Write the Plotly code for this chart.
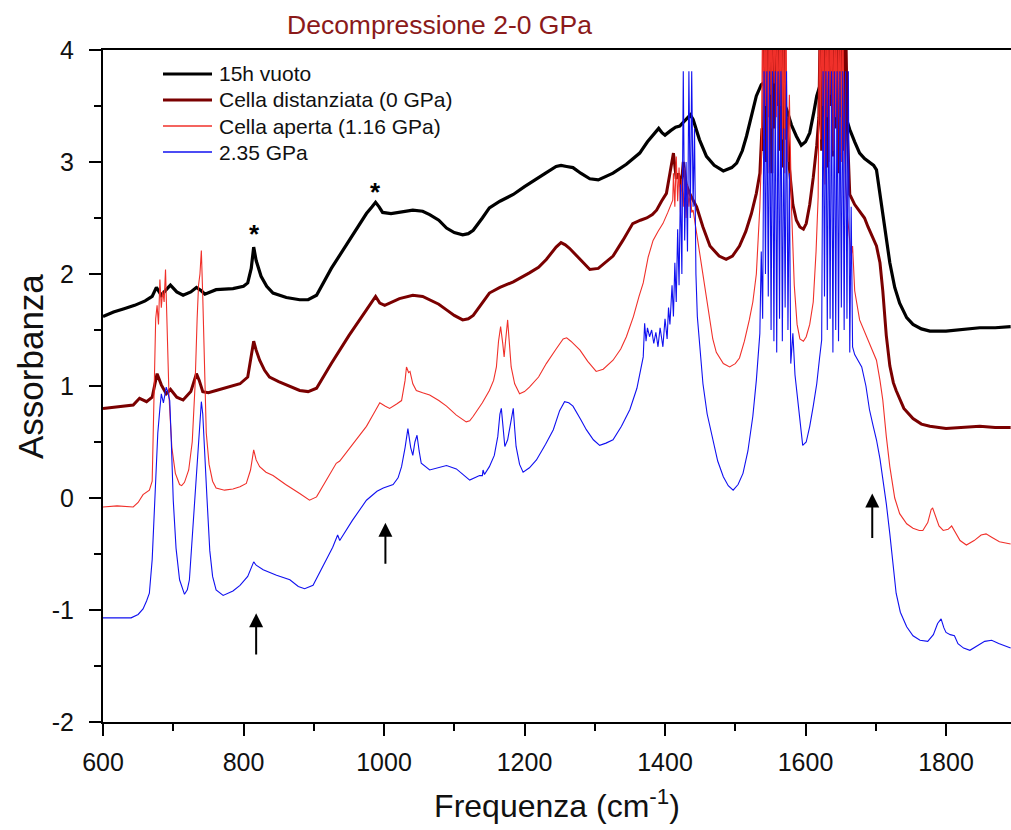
import plotly.graph_objects as go

# ---------------- spectra (wavenumber in cm^-1, absorbance) ----------------
vuoto_x = [600, 615, 630, 645, 660, 670, 676, 683, 690, 696, 705, 714, 725, 733, 740, 745, 761, 785, 800, 806,
           811, 814.5, 818, 825, 833, 842, 861, 880, 892, 904, 925, 950, 975, 983, 988, 993, 998, 1010, 1022, 1041,
           1055, 1065, 1078, 1089, 1100, 1112, 1120, 1127, 1140, 1150, 1165, 1184, 1200, 1214, 1230, 1245, 1252, 1260,
           1269, 1280, 1293, 1305, 1326, 1345, 1364, 1375, 1385, 1391, 1396, 1400, 1408, 1415, 1421, 1430, 1436, 1440,
           1445, 1449, 1459, 1470, 1483, 1495, 1502, 1510, 1516, 1523, 1530, 1537, 1545, 1552, 1560, 1566, 1573, 1580,
           1587, 1594, 1600, 1606, 1612, 1616, 1620, 1627, 1634, 1642, 1650, 1657, 1663, 1670, 1677, 1684, 1691, 1697,
           1701, 1705, 1710, 1715, 1720, 1727, 1734, 1744, 1753, 1765, 1777, 1800, 1820, 1848, 1870, 1892]
vuoto_y = [1.62, 1.66, 1.69, 1.72, 1.76, 1.80, 1.88, 1.81, 1.86, 1.90, 1.84, 1.81, 1.84, 1.88, 1.85, 1.82, 1.86, 1.87, 1.89, 1.92,
           2.05, 2.24, 2.12, 1.98, 1.89, 1.83, 1.79, 1.77, 1.77, 1.81, 2.05, 2.30, 2.54, 2.60, 2.64, 2.60, 2.55, 2.54, 2.55, 2.57,
           2.56, 2.53, 2.48, 2.41, 2.37, 2.35, 2.36, 2.39, 2.50, 2.59, 2.65, 2.71, 2.78, 2.84, 2.90, 2.96, 2.97, 2.96,
           2.95, 2.90, 2.85, 2.84, 2.90, 2.98, 3.08, 3.18, 3.26, 3.30, 3.26, 3.24, 3.28, 3.31, 3.32, 3.38, 3.42, 3.38,
           3.28, 3.20, 3.05, 2.97, 2.92, 2.95, 2.99, 3.10, 3.23, 3.40, 3.59, 3.69, 3.73, 3.74, 3.65, 3.58, 3.47, 3.33,
           3.23, 3.15, 3.18, 3.26, 3.45, 3.59, 3.67, 3.76, 3.80, 3.72, 3.55, 3.40, 3.29, 3.18, 3.08, 3.03, 3.00, 2.97,
           2.93, 2.75, 2.54, 2.32, 2.10, 1.88, 1.74, 1.61, 1.55, 1.51, 1.49, 1.49, 1.50, 1.52, 1.52, 1.53]

distanziata_x = [600, 615, 630, 643, 652, 662, 670, 677, 683, 690, 696, 705, 714, 725, 733, 737, 742, 750, 761, 780,
                 795, 806, 811, 814.5, 818, 823, 830, 837, 850, 861, 880, 892, 904, 925, 950, 975, 983, 988, 994, 1001,
                 1022, 1041, 1055, 1065, 1078, 1089, 1100, 1112, 1120, 1127, 1140, 1150, 1165, 1184, 1207, 1220, 1231,
                 1245, 1252, 1258, 1264, 1280, 1293, 1305, 1326, 1340, 1354, 1365, 1374, 1382, 1388, 1395, 1402, 1407,
                 1412, 1416, 1419, 1423, 1426, 1430, 1435, 1440, 1445, 1454, 1464, 1477, 1487, 1496, 1506, 1515, 1523,
                 1530, 1535, 1538,
                 1540, 1542, 1544, 1546, 1548, 1550, 1552, 1554, 1556, 1558, 1560, 1562, 1564, 1566, 1568, 1570, 1572,
                 1574, 1577, 1582, 1587, 1592, 1597, 1601, 1606, 1611, 1616, 1619,
                 1621, 1623, 1625, 1627, 1629, 1631, 1633, 1635, 1637, 1639, 1641, 1643, 1645, 1647, 1649, 1651, 1653,
                 1655, 1657, 1660, 1663, 1670, 1677, 1684, 1689, 1695, 1701, 1706, 1710, 1715, 1720, 1725, 1729, 1740,
                 1753, 1765, 1777, 1800, 1820, 1848, 1870, 1892]
distanziata_y = [0.80, 0.81, 0.82, 0.83, 0.89, 0.86, 0.90, 1.11, 1.01, 0.93, 0.97, 0.90, 0.875, 0.95, 1.11, 1.05, 0.95, 0.94, 0.96, 0.99,
                 1.02, 1.08, 1.25, 1.40, 1.32, 1.23, 1.14, 1.08, 1.04, 1.01, 0.96, 0.95, 0.98, 1.20, 1.45, 1.68, 1.76, 1.80, 1.74, 1.72,
                 1.78, 1.81, 1.80, 1.77, 1.73, 1.68, 1.63, 1.59, 1.60, 1.63, 1.74, 1.83, 1.88, 1.93, 2.01, 2.06, 2.13,
                 2.24, 2.28, 2.26, 2.23, 2.12, 2.04, 2.05, 2.16, 2.30, 2.45, 2.48, 2.50, 2.53, 2.57, 2.65, 2.72, 2.90,
                 3.08, 2.85, 2.90, 2.78, 3.00, 2.80, 2.72, 2.66, 2.60, 2.42, 2.25, 2.16, 2.13, 2.16, 2.25, 2.38, 2.54,
                 2.72, 2.90, 3.30,
                 3.10, 4.30, 3.00, 4.30, 3.40, 4.30, 2.90, 4.30, 3.30, 4.30, 3.50, 4.30, 3.10, 4.30, 2.95, 4.30, 3.20,
                 3.40, 2.95, 2.62, 2.48, 2.42, 2.40, 2.45, 2.62, 2.86, 3.15, 3.40,
                 4.30, 3.10, 4.30, 3.40, 4.30, 2.95, 4.30, 3.50, 4.30, 3.05, 4.30, 3.30, 4.30, 2.90, 4.30, 3.40, 4.30,
                 3.10, 4.30, 3.20, 2.71, 2.62, 2.56, 2.50, 2.42, 2.33, 2.25, 2.10, 1.85, 1.45, 1.18, 1.03, 0.96, 0.80,
                 0.71, 0.66, 0.64, 0.62, 0.63, 0.64, 0.63, 0.63]

aperta_x = [600, 620, 643, 650, 657, 666, 670, 673, 675, 677, 679, 681, 683, 685, 687, 689, 691, 694, 698, 703,
            709, 712, 716, 722, 727, 731, 734, 736, 738, 740, 742, 745, 747, 751, 756, 761, 773, 785, 795, 804,
            810, 814.5, 818, 823, 832, 842, 860, 880, 894, 904, 918, 932, 937, 955, 975, 985, 994, 1002, 1008, 1018,
            1025, 1030, 1032, 1035, 1037, 1041, 1046, 1055, 1065, 1078, 1089, 1103, 1117, 1122, 1127, 1140, 1150, 1156,
            1160, 1163, 1166, 1169, 1171, 1173, 1176, 1178, 1181, 1186, 1193, 1200, 1207, 1220, 1231, 1245, 1255, 1260,
            1266, 1279, 1290, 1302, 1312, 1326, 1337, 1345, 1355, 1363, 1369, 1376, 1383, 1390, 1397, 1404, 1408, 1411,
            1412, 1414, 1416, 1418, 1420, 1422, 1424, 1426, 1428, 1430, 1432, 1434, 1436, 1438, 1440, 1444, 1449, 1454,
            1459, 1464, 1468, 1473, 1483, 1492, 1500, 1506, 1513, 1520, 1525, 1530, 1535, 1537,
            1539, 1540.5, 1542, 1543.5, 1545, 1546.5, 1548, 1549.5, 1551, 1552.5, 1554, 1555.5, 1557, 1558.5, 1560,
            1561.5, 1563, 1564.5, 1566, 1567.5, 1569, 1570.5, 1572, 1573.5, 1575, 1577, 1580, 1584, 1588, 1592, 1597,
            1601, 1606, 1611, 1615, 1618,
            1620, 1621.5, 1623, 1624.5, 1626, 1627.5, 1629, 1630.5, 1632, 1633.5, 1635, 1636.5, 1638, 1639.5, 1641,
            1642.5, 1644, 1645.5, 1647, 1648.5, 1650, 1651.5, 1653, 1655, 1657, 1660, 1663, 1665, 1667, 1670, 1677,
            1684, 1691, 1696, 1701, 1706, 1710, 1715, 1720, 1727, 1734, 1744, 1753, 1762, 1767, 1774, 1779, 1781,
            1785, 1790, 1796, 1803, 1808, 1812, 1820, 1829, 1840, 1850, 1857, 1865, 1876, 1892]
aperta_y = [-0.08, -0.07, -0.08, -0.04, 0.03, 0.07, 0.15, 0.90, 1.60, 1.72, 1.55, 1.95, 1.70, 1.85, 1.75, 2.04, 1.50, 0.90, 0.45, 0.22,
            0.12, 0.11, 0.14, 0.25, 0.50, 1.00, 1.60, 1.90, 2.00, 2.21, 1.80, 1.10, 0.58, 0.30, 0.15, 0.09, 0.07, 0.08, 0.10, 0.13,
            0.25, 0.43, 0.34, 0.28, 0.23, 0.20, 0.12, 0.04, -0.02, 0.01, 0.16, 0.31, 0.33, 0.48, 0.64, 0.75, 0.85, 0.82, 0.80, 0.84,
            0.87, 1.05, 1.17, 1.12, 1.13, 1.02, 0.96, 0.94, 0.92, 0.87, 0.82, 0.74, 0.68, 0.69, 0.73, 0.85, 0.96, 1.05,
            1.17, 1.40, 1.53, 1.38, 1.26, 1.40, 1.59, 1.42, 1.17, 1.02, 0.93, 0.95, 0.99, 1.08, 1.20, 1.33, 1.42, 1.43,
            1.40, 1.32, 1.22, 1.13, 1.15, 1.23, 1.33, 1.44, 1.62, 1.80, 1.92, 2.15, 2.30, 2.38, 2.45, 2.55, 2.62, 2.66,
            2.90, 2.60, 3.05, 2.65, 2.95, 2.55, 2.85, 2.60, 2.95, 2.50, 2.80, 2.60, 2.75, 2.55, 2.57, 2.40, 2.20, 2.00,
            1.80, 1.56, 1.42, 1.30, 1.20, 1.17, 1.20, 1.25, 1.40, 1.59, 1.75, 2.00, 2.60, 3.00,
            4.40, 3.20, 4.40, 3.50, 4.40, 2.90, 4.40, 3.60, 4.40, 3.30, 4.40, 3.70, 4.40, 3.40, 4.40,
            3.10, 4.40, 3.50, 4.40, 3.20, 4.40, 2.90, 4.40, 3.30, 3.00, 3.60, 2.60, 1.90, 1.55, 1.42, 1.40,
            1.44, 1.55, 1.75, 2.20, 2.69,
            4.40, 3.20, 4.40, 3.50, 4.40, 2.80, 4.40, 3.40, 4.40, 3.00, 4.40, 3.60, 4.40, 3.10, 4.40,
            3.40, 4.40, 2.90, 4.40, 3.30, 4.40, 3.00, 4.40, 3.20, 2.80, 2.50, 2.30, 2.16, 2.25, 1.85, 1.59,
            1.48, 1.38, 1.30, 1.23, 1.05, 0.875, 0.55, 0.28, 0.00, -0.14, -0.23, -0.27, -0.29, -0.29, -0.22, -0.10, -0.09,
            -0.16, -0.25, -0.29, -0.28, -0.25, -0.29, -0.38, -0.42, -0.38, -0.33, -0.32, -0.35, -0.39, -0.41]

gpa235_x = [600, 620, 640, 650, 657, 662, 666, 670, 674, 676, 678, 681, 683, 686, 688, 690, 692, 695, 697, 700,
            704, 709, 716, 720, 723, 727, 730, 733, 737, 740, 742, 745, 748, 752, 756, 761, 771, 785, 795, 806,
            811, 814.5, 818, 828, 847, 866, 878, 887, 899, 912, 927, 934, 937, 939, 955, 975, 990, 999, 1013, 1020,
            1025, 1030, 1034, 1038, 1041, 1044, 1047, 1050, 1053, 1065, 1078, 1089, 1103, 1115, 1122, 1136, 1140, 1141,
            1143, 1150, 1157, 1162, 1165, 1167, 1170, 1172, 1176, 1179, 1182, 1184, 1186, 1188, 1193, 1198, 1207, 1217,
            1230, 1241, 1250, 1257, 1263, 1269, 1280, 1288, 1298, 1307, 1316, 1326, 1338, 1350, 1360, 1366, 1369, 1371,
            1373, 1375, 1378, 1381, 1384, 1387, 1390, 1393, 1397, 1400, 1403, 1405, 1407, 1410, 1412, 1414, 1416, 1418,
            1420, 1422, 1424, 1426, 1428, 1430, 1432, 1434, 1436, 1438, 1440, 1442, 1444, 1446, 1450, 1454, 1460, 1468,
            1475, 1483, 1490, 1497, 1504, 1511, 1518, 1525, 1530, 1535,
            1537, 1539, 1541, 1543, 1545, 1547, 1549, 1551, 1553, 1555, 1557, 1559, 1561, 1563, 1565, 1567, 1569, 1571,
            1573, 1575, 1577, 1579, 1582, 1585, 1589, 1596, 1601, 1606, 1611, 1616, 1620, 1623,
            1625, 1627, 1629, 1631, 1633, 1635, 1637, 1639, 1641, 1643, 1645, 1647, 1649, 1651, 1653, 1655, 1657, 1659,
            1661, 1663, 1665, 1667, 1670, 1675, 1680, 1686, 1691, 1696, 1701, 1706, 1710, 1715, 1720, 1725, 1729, 1735,
            1744, 1753, 1763, 1774, 1782, 1788, 1793, 1797, 1800, 1806, 1812, 1817, 1825, 1834, 1845, 1855, 1865, 1875,
            1892]
gpa235_y = [-1.07, -1.07, -1.07, -1.04, -0.99, -0.92, -0.85, -0.55, -0.02, 0.35, 0.58, 0.80, 0.93, 0.85, 0.92, 0.99, 0.95, 0.87, 0.55, -0.02,
            -0.45, -0.73, -0.86, -0.82, -0.73, -0.35, 0.00, 0.28, 0.65, 0.86, 0.75, 0.43, 0.00, -0.47, -0.70, -0.82, -0.87, -0.83, -0.78, -0.70,
            -0.62, -0.57, -0.60, -0.64, -0.69, -0.73, -0.79, -0.81, -0.78, -0.62, -0.44, -0.33, -0.38, -0.36, -0.20, -0.02, 0.06, 0.09, 0.12, 0.18,
            0.28, 0.45, 0.62, 0.45, 0.38, 0.50, 0.56, 0.42, 0.31, 0.25, 0.27, 0.29, 0.26, 0.20, 0.16, 0.20, 0.20, 0.25,
            0.21, 0.28, 0.38, 0.55, 0.75, 0.80, 0.60, 0.46, 0.52, 0.64, 0.76, 0.80, 0.62, 0.46, 0.30, 0.23, 0.27, 0.34,
            0.48, 0.61, 0.78, 0.86, 0.85, 0.82, 0.70, 0.61, 0.52, 0.47, 0.49, 0.52, 0.64, 0.79, 0.98, 1.15, 1.26, 1.56,
            1.40, 1.52, 1.44, 1.50, 1.38, 1.48, 1.35, 1.52, 1.35, 1.60, 1.42, 1.70, 1.55, 1.90, 1.62, 2.10, 1.75, 2.40,
            1.90, 2.80, 2.00, 3.81, 2.30, 3.00, 2.20, 3.81, 2.50, 3.81, 2.60, 3.30, 2.00, 1.62, 1.30, 1.02, 0.75, 0.52,
            0.33, 0.19, 0.11, 0.07, 0.12, 0.22, 0.42, 0.73, 1.05, 1.47,
            2.20, 1.60, 3.81, 2.00, 3.81, 1.80, 3.81, 1.50, 3.81, 1.40, 3.81, 1.30, 3.81, 1.60, 3.81, 1.40, 3.30, 1.70,
            3.81, 1.50, 2.90, 1.20, 1.47, 1.10, 0.875, 0.47, 0.50, 0.64, 0.82, 1.02, 1.25, 1.41,
            3.81, 1.80, 3.81, 1.50, 3.81, 1.60, 3.81, 1.30, 3.81, 1.50, 3.81, 1.40, 3.81, 1.70, 3.81, 1.50, 3.81, 1.60,
            3.81, 1.30, 2.60, 1.35, 1.28, 1.22, 1.17, 1.00, 0.79, 0.65, 0.52, 0.35, 0.19, -0.05, -0.32, -0.60, -0.85, -1.02,
            -1.15, -1.23, -1.27, -1.28, -1.22, -1.12, -1.08, -1.16, -1.20, -1.22, -1.23, -1.30, -1.34, -1.36, -1.32, -1.28, -1.27, -1.30,
            -1.34]

series_names = ["15h vuoto", "Cella distanziata (0 GPa)", "Cella aperta (1.16 GPa)", "2.35 GPa"]
series_colors = ["#000000", "#7a0000", "#f0302a", "#1010f0"]
series_widths = [3.2, 3.0, 1.1, 1.1]

# axis tick labels (plain hyphen for negatives)
y_tick_vals = [-2, -1, 0, 1, 2, 3, 4]
y_tick_text = ["-2", "-1", "0", "1", "2", "3", "4"]
x_tick_vals = [600, 800, 1000, 1200, 1400, 1600, 1800]
x_tick_text = ["600", "800", "1000", "1200", "1400", "1600", "1800"]

# marker annotations: asterisks over the cell-window bands, arrows under new bands
star_x = [815, 988]
star_y = [2.36, 2.73]
arrow_x = [818, 1002, 1695]
arrow_tip = [-1.03, -0.22, 0.04]
arrow_tail = [-1.41, -0.60, -0.37]

X_RANGE = [600, 1892.5]
Y_RANGE = [-2, 4]

FONT = "Liberation Sans, Arial, sans-serif"

fig = go.Figure()

data = [(vuoto_x, vuoto_y), (distanziata_x, distanziata_y), (aperta_x, aperta_y), (gpa235_x, gpa235_y)]
draw_order = [0, 1, 2, 3]
for i in draw_order:
    xs, ys = data[i]
    fig.add_trace(go.Scatter(x=xs, y=ys, mode="lines", name=series_names[i],
                             line=dict(color=series_colors[i], width=series_widths[i]),
                             showlegend=False, hoverinfo="skip"))

# legend drawn as paper-anchored samples (line + label)
L, T, W, H = 103, 50, 908, 672


def px2paper(px, py):
    return (px - L) / W, 1 - (py - T) / H


leg_rows = [74, 100, 126, 152]
shapes = []
annotations = []
for i, row in enumerate(leg_rows):
    x0, y0 = px2paper(163, row)
    x1, _ = px2paper(212, row)
    shapes.append(dict(type="line", xref="paper", yref="paper", x0=x0, x1=x1, y0=y0, y1=y0,
                       line=dict(color=series_colors[i], width=series_widths[i] if i < 2 else 1.6)))
    tx, _ = px2paper(217, row)
    annotations.append(dict(xref="paper", yref="paper", x=tx, y=y0, xanchor="left", yanchor="middle",
                            text=series_names[i], showarrow=False,
                            font=dict(family=FONT, size=21, color="#111111")))

for sx, sy in zip(star_x, star_y):
    annotations.append(dict(x=sx, y=sy, xref="x", yref="y", text="<b>*</b>", showarrow=False,
                            font=dict(family=FONT, size=26, color="#000000"),
                            xanchor="center", yanchor="middle"))

for axx, tip, tail in zip(arrow_x, arrow_tip, arrow_tail):
    annotations.append(dict(x=axx, y=tip, ax=axx, ay=tail, xref="x", yref="y", axref="x", ayref="y",
                            text="", showarrow=True, arrowhead=2, arrowsize=1.4, arrowwidth=2,
                            arrowcolor="#000000"))

tx, ty = px2paper(439, 25)
annotations.append(dict(xref="paper", yref="paper", x=tx, y=ty, xanchor="center", yanchor="middle",
                        text="Decompressione 2-0 GPa", showarrow=False,
                        font=dict(family=FONT, size=26.5, color="#8b1a1a")))

# y-axis title, placed by hand
yx, yy = px2paper(30, 367)
annotations.append(dict(xref="paper", yref="paper", x=yx, y=yy, xanchor="center", yanchor="middle",
                        text="Assorbanza", textangle=-90, showarrow=False,
                        font=dict(family=FONT, size=35, color="#111111")))

fig.update_layout(
    width=1011, height=830,
    margin=dict(l=L, r=1011 - L - W, t=T, b=830 - T - H),
    paper_bgcolor="white", plot_bgcolor="white",
    shapes=shapes, annotations=annotations,
    font=dict(family=FONT, color="#000000"),
)

fig.update_xaxes(
    range=X_RANGE, showgrid=False, zeroline=False,
    showline=True, linecolor="#000000", linewidth=2, mirror=True,
    ticks="outside", ticklen=12, tickwidth=2, tickcolor="#000000",
    tickmode="array", tickvals=x_tick_vals, ticktext=x_tick_text, ticklabelstandoff=5,
    minor=dict(ticks="outside", ticklen=7, tickwidth=2, tickcolor="#000000", dtick=100, tick0=600, showgrid=False),
    tickfont=dict(family=FONT, size=25, color="#111111"),
    title=dict(text="Frequenza (cm<sup>-1</sup>)", font=dict(family=FONT, size=32, color="#111111"), standoff=20),
)
fig.update_yaxes(
    range=Y_RANGE, showgrid=False, zeroline=False,
    showline=True, linecolor="#000000", linewidth=2, mirror=False,
    ticks="outside", ticklen=12, tickwidth=2, tickcolor="#000000",
    tickmode="array", tickvals=y_tick_vals, ticktext=y_tick_text, ticklabelstandoff=10,
    minor=dict(ticks="outside", ticklen=7, tickwidth=2, tickcolor="#000000", dtick=0.5, tick0=-2, showgrid=False),
    tickfont=dict(family=FONT, size=25, color="#111111"),
)

fig.write_html("out.html")
